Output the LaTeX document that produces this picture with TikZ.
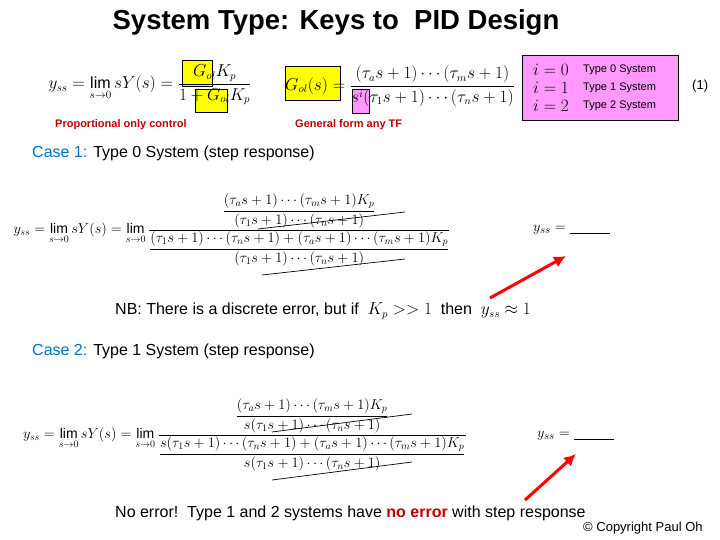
\documentclass[tikz,border=0pt]{standalone}
\usepackage{amsmath}
\usepackage{fontspec}
\setmainfont{Liberation Sans}
\definecolor{ylw}{HTML}{FFFF00}
\definecolor{pnk}{HTML}{FF99FF}
\definecolor{dred}{HTML}{C00000}
\definecolor{cblue}{HTML}{0070C0}
\begin{document}
\begin{tikzpicture}[x=1pt,y=-1pt,
  txt/.style={inner sep=0pt,anchor=west},
  eq/.style={inner sep=0pt},
  redlbl/.style={inner sep=0pt,anchor=west,text=dred,font=\fontsize{11}{13}\selectfont\bfseries},
  arr/.style={draw=red,line width=3pt,-{Latex[length=12pt,width=12pt]}},
  strike/.style={draw,line width=0.7pt}]
\usetikzlibrary{arrows.meta}
\useasboundingbox (0,0) rectangle (720,540);
% title
\node[eq,font=\fontsize{27.5}{30}\selectfont\bfseries] (title) at (336,22) {System Type: Keys to \ PID Design};
% highlight boxes
\fill[ylw,draw=black,line width=0.4pt] (182,60) rectangle (212,86);
\fill[ylw,draw=black,line width=0.4pt] (195,89) rectangle (227,112);
\fill[ylw,draw=black,line width=0.4pt] (285,66) rectangle (340,100);
\fill[pnk,draw=black,line width=0.4pt] (352,89) rectangle (369,113);
\fill[pnk,draw=black,line width=0.6pt] (522,55) rectangle (678,120);
% eq1
\node[eq,font=\fontsize{16}{18}\selectfont] (eqa) at (150,85) {$y_{ss}=\lim\limits_{s\to0}sY(s)=\dfrac{G_{ol}K_p}{1+G_{ol}K_p}$};
% eq2
\node[eq,font=\fontsize{16}{18}\selectfont] (eqb) at (400,86) {$G_{ol}(s)=\dfrac{(\tau_a s+1)\cdots(\tau_m s+1)}{s^i(\tau_1 s+1)\cdots(\tau_n s+1)}$};
\node[eq,font=\fontsize{16}{18}\selectfont,anchor=west] (i0) at (533,70) {$i=0$};
\node[eq,font=\fontsize{16}{18}\selectfont,anchor=west] (i1) at (533,88) {$i=1$};
\node[eq,font=\fontsize{16}{18}\selectfont,anchor=west] (i2) at (533,106) {$i=2$};
\node[txt,font=\fontsize{11}{13}\selectfont] (t0) at (583,70) {Type 0 System};
\node[txt,font=\fontsize{11}{13}\selectfont] (t1) at (583,88) {Type 1 System};
\node[txt,font=\fontsize{11}{13}\selectfont] (t2) at (583,106) {Type 2 System};
\node[txt,font=\fontsize{13}{15}\selectfont] (one) at (692,86) {(1)};
\node[redlbl] (pl) at (55,125) {Proportional only control};
\node[redlbl] (gl) at (295,125) {General form any TF};
% case 1
\node[txt,font=\fontsize{16}{19}\selectfont] (c1) at (32,153) {\textcolor{cblue}{Case 1:} Type 0 System (step response)};
\node[eq,font=\fontsize{14}{17}\selectfont] (eqc) at (232,230) {$y_{ss}=\lim\limits_{s\to0}sY(s)=\lim\limits_{s\to0}\dfrac{\dfrac{(\tau_a s+1)\cdots(\tau_m s+1)K_p}{(\tau_1 s+1)\cdots(\tau_n s+1)}}{\dfrac{(\tau_1 s+1)\cdots(\tau_n s+1)+(\tau_a s+1)\cdots(\tau_m s+1)K_p}{(\tau_1 s+1)\cdots(\tau_n s+1)}}$};
\coordinate (s1a) at (258,229); \coordinate (s1b) at (405,212);
\draw[strike] (s1a) -- (s1b);
\coordinate (s2a) at (262,275); \coordinate (s2b) at (405,259);
\draw[strike] (s2a) -- (s2b);
\node[eq,font=\fontsize{15}{18}\selectfont,anchor=west] (ys1) at (533,230) {$y_{ss}=\underline{\hspace{40pt}}$};
\coordinate (a1s) at (490,298); \coordinate (a1e) at (566,256);
\draw[arr] (a1s) -- (a1e);
\node[txt,font=\fontsize{16}{19}\selectfont] (nb) at (115,311) {NB: There is a discrete error, but if \ $K_p>>1$ \ then \ $y_{ss}\approx1$};
% case 2
\node[txt,font=\fontsize{16}{19}\selectfont] (c2) at (32,351) {\textcolor{cblue}{Case 2:} Type 1 System (step response)};
\node[eq,font=\fontsize{14}{17}\selectfont] (eqd) at (245,435) {$y_{ss}=\lim\limits_{s\to0}sY(s)=\lim\limits_{s\to0}\dfrac{\dfrac{(\tau_a s+1)\cdots(\tau_m s+1)K_p}{s(\tau_1 s+1)\cdots(\tau_n s+1)}}{\dfrac{s(\tau_1 s+1)\cdots(\tau_n s+1)+(\tau_a s+1)\cdots(\tau_m s+1)K_p}{s(\tau_1 s+1)\cdots(\tau_n s+1)}}$};
\coordinate (s3a) at (272,432); \coordinate (s3b) at (412,414);
\draw[strike] (s3a) -- (s3b);
\coordinate (s4a) at (272,480); \coordinate (s4b) at (412,462);
\draw[strike] (s4a) -- (s4b);
\node[eq,font=\fontsize{15}{18}\selectfont,anchor=west] (ys2) at (537,436) {$y_{ss}=\underline{\hspace{40pt}}$};
\coordinate (a2s) at (525,500); \coordinate (a2e) at (576,454);
\draw[arr] (a2s) -- (a2e);
\node[txt,font=\fontsize{16}{19}\selectfont] (ne) at (115,513) {No error!\ \ Type 1 and 2 systems have \textcolor{dred}{\bfseries no error} with step response};
\node[txt,font=\fontsize{13}{15}\selectfont] (cp) at (583,528) {© Copyright Paul Oh};
\end{tikzpicture}
\end{document}
